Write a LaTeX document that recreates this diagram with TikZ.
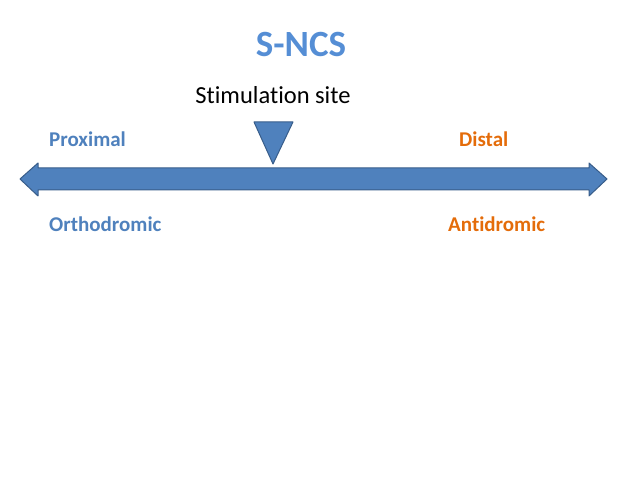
\documentclass[tikz,border=0pt]{standalone}
\usepackage{fontspec}
\setmainfont[Ligatures=NoCommon]{Carlito}
\definecolor{sblue}{HTML}{4F81BD}
\definecolor{sedge}{HTML}{385D8A}
\definecolor{tblue}{HTML}{558ED5}
\definecolor{sorange}{HTML}{E46C0A}
\begin{document}
\begin{tikzpicture}[x=1pt,y=-1pt,
  lbl/.style={font=\bfseries\fontsize{21}{24}\selectfont, anchor=west, inner sep=0pt}]
\useasboundingbox (0,0) rectangle (638,478);
\node[font=\bfseries\fontsize{37}{40}\selectfont, text=tblue] (title) at (301,44) {S-NCS};
\node[font=\fontsize{24.5}{28}\selectfont] (site) at (273,95) {Stimulation site};
\draw[sedge, fill=sblue, line width=1pt, line join=round] (254,122) -- (293,122) -- (273,164) -- cycle;
\draw[sedge, fill=sblue, line width=1pt, line join=round]
  (20,179) -- (38,163) -- (38,168) -- (589,168) -- (589,163) -- (607,179)
  -- (589,196) -- (589,190) -- (38,190) -- (38,196) -- cycle;
\node[lbl, text=sblue] (prox) at (49,139) {Proximal};
\node[lbl, text=sorange] (dist) at (459,139) {Distal};
\node[lbl, text=sblue] (orth) at (49,224) {Orthodromic};
\node[lbl, text=sorange] (anti) at (448,224) {Antidromic};
\end{tikzpicture}
\end{document}
